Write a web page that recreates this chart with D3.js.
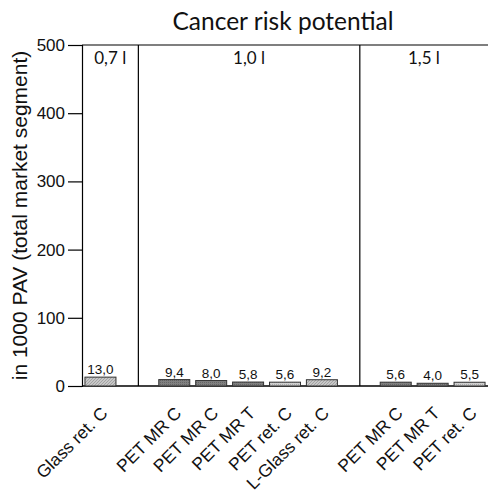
<!DOCTYPE html>
<html><head><meta charset="utf-8">
<script src="https://cdn.jsdelivr.net/npm/d3@7"></script>
<style>body{margin:0;background:#fff}</style>
</head><body>
<svg id="c" width="488" height="493"></svg>
<script>
const slots = ["s0","gap1","s2","s3","s4","s5","s6","gap7","s8","s9","s10"];
const categories = ["Glass ret. C","PET MR C","PET MR C","PET MR T","PET ret. C","L-Glass ret. C","PET MR C","PET MR T","PET ret. C"];
const values = [13.0,9.4,8.0,5.8,5.6,9.2,5.6,4.0,5.5];
const labels = ["13,0","9,4","8,0","5,8","5,6","9,2","5,6","4,0","5,5"];
const barSlot = ["s0","s2","s3","s4","s5","s6","s8","s9","s10"];
const barType = ["light","dark","dark","dark","lightdot","light","dark","dark","lightdot"];
const groups = ["0,7 l","1,0 l","1,5 l"];
const yTicks = [0,100,200,300,400,500];

const SANS = "'Liberation Sans', Arial, Helvetica, sans-serif";
const HUM = "Lato, 'Open Sans', sans-serif";
const svg = d3.select("#c");
const L=82,R=488,T=45,B=386;
const x = d3.scaleBand().domain(slots).range([L,R]).paddingInner(0.16).paddingOuter(0.08);
const y = d3.scaleLinear().domain([0,500]).range([B,T]);

const defs = svg.append("defs");
const p1 = defs.append("pattern").attr("id","hatch").attr("patternUnits","userSpaceOnUse").attr("width",3).attr("height",3);
p1.append("rect").attr("width",3).attr("height",3).attr("fill","#c8c8c8");
p1.append("path").attr("d","M0,3 L3,0").attr("stroke","#999").attr("stroke-width",0.8);
const p2 = defs.append("pattern").attr("id","dark").attr("patternUnits","userSpaceOnUse").attr("width",2).attr("height",2);
p2.append("rect").attr("width",2).attr("height",2).attr("fill","#808080");
p2.append("rect").attr("width",1).attr("height",1).attr("fill","#666");
const p3 = defs.append("pattern").attr("id","ldot").attr("patternUnits","userSpaceOnUse").attr("width",2).attr("height",2);
p3.append("rect").attr("width",2).attr("height",2).attr("fill","#d0d0d0");
p3.append("rect").attr("width",1).attr("height",1).attr("fill","#aaa");
const fills = {light:"url(#hatch)",dark:"url(#dark)",lightdot:"url(#ldot)"};

// title
svg.append("text").attr("x",283).attr("y",30).attr("text-anchor","middle")
  .style("font-family",HUM).style("font-size","24.5px").attr("fill","#111").text("Cancer risk potential");

// y axis
const ya = svg.append("g").attr("transform",`translate(${L},0)`)
  .call(d3.axisLeft(y).tickValues(yTicks).tickSize(14).tickPadding(3).tickFormat(d3.format("d")));
ya.select(".domain").attr("stroke","#000").attr("stroke-width",1.2);
ya.selectAll(".tick line").attr("stroke","#000").attr("stroke-width",1.2);
ya.selectAll(".tick text").style("font-family",SANS).style("font-size","17px").attr("fill","#111");

svg.append("text").attr("transform",`translate(27,${(T+B)/2}) rotate(-90)`).attr("text-anchor","middle")
  .style("font-family",SANS).style("font-size","21px").attr("fill","#111")
  .text("in 1000 PAV (total market segment)");

// frame lines
svg.append("line").attr("x1",L).attr("x2",R).attr("y1",T).attr("y2",T).attr("stroke","#000").attr("stroke-width",1.2);
svg.append("line").attr("x1",L).attr("x2",R).attr("y1",B).attr("y2",B).attr("stroke","#000").attr("stroke-width",1.5);
const sepX = ["gap1","gap7"].map(s=>x(s)+x.bandwidth()/2+1);
sepX.forEach(sx=>svg.append("line").attr("x1",sx).attr("x2",sx).attr("y1",T).attr("y2",B).attr("stroke","#000").attr("stroke-width",1.2));

// group labels
const gx = [(L+sepX[0])/2,(sepX[0]+sepX[1])/2,(sepX[1]+R)/2];
groups.forEach((g,i)=>svg.append("text").attr("x",gx[i]).attr("y",64).attr("text-anchor","middle")
  .style("font-family",HUM).style("font-size","17px").attr("fill","#111").text(g));

// bars
svg.selectAll("rect.bar").data(values).enter().append("rect").attr("class","bar")
  .attr("x",(d,i)=>x(barSlot[i])).attr("width",x.bandwidth())
  .attr("y",d=>y(d)).attr("height",d=>B-y(d))
  .attr("fill",(d,i)=>fills[barType[i]]).attr("stroke","#333").attr("stroke-width",1);

svg.selectAll("text.val").data(values).enter().append("text").attr("class","val")
  .attr("x",(d,i)=>x(barSlot[i])+x.bandwidth()/2).attr("y",d=>y(d)-3)
  .attr("text-anchor","middle").style("font-family",SANS).style("font-size","13.5px").attr("fill","#111")
  .text((d,i)=>labels[i]);

// x labels
svg.selectAll("text.cat").data(categories).enter().append("text").attr("class","cat")
  .attr("transform",(d,i)=>`translate(${x(barSlot[i])+x.bandwidth()/2-1},${B+19}) rotate(-45)`)
  .attr("text-anchor","end").attr("dy","0.75em")
  .style("font-family",SANS).style("font-size","17.5px").attr("fill","#111").text(d=>d);
</script>
</body></html>
